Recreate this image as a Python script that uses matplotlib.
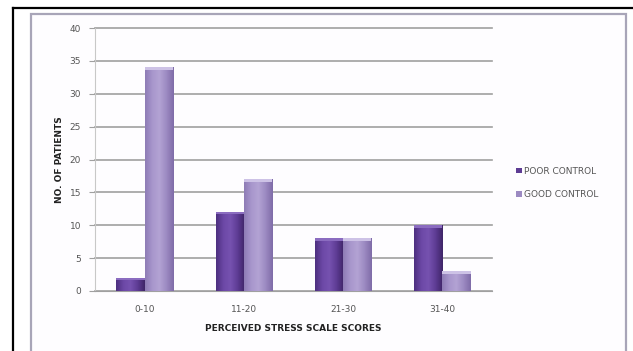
import numpy as np
import matplotlib.pyplot as plt
from matplotlib.patches import Rectangle
from matplotlib.lines import Line2D
from matplotlib.colors import LinearSegmentedColormap

categories = ["0-10", "11-20", "21-30", "31-40"]
poor_control = [2, 12, 8, 10]
good_control = [34, 17, 8, 3]
series_names = ["POOR CONTROL", "GOOD CONTROL"]
y_ticks = [0, 5, 10, 15, 20, 25, 30, 35, 40]

W, H = 633, 351
fig = plt.figure(figsize=(W / 100, H / 100), dpi=100)
fig.patch.set_facecolor("white")

# outer frame lines (top and left)
fig.add_artist(Line2D([13 / W, 1.0], [1 - 8 / H, 1 - 8 / H], color="black", lw=1.6,
                      transform=fig.transFigure))
fig.add_artist(Line2D([13 / W, 13 / W], [0, 1 - 8 / H], color="black", lw=1.6,
                      transform=fig.transFigure))
# chart area border
fig.add_artist(Rectangle((31 / W, -0.05), (626 - 31) / W, 1 - 14 / H + 0.05,
                         transform=fig.transFigure, fill=True, facecolor="#fefdff",
                         edgecolor="#a8a5b8", lw=1.6, zorder=0))

ax = fig.add_axes([95 / W, 1 - 291 / H, (492 - 95) / W, (291 - 28) / H])
ax.set_facecolor("none")

x = np.arange(len(categories))
bw = 0.285

poor_cmap = LinearSegmentedColormap.from_list(
    "poor", ["#4d2f80", "#6c48a6", "#7652b0", "#5e3c94", "#3f2568"])
good_cmap = LinearSegmentedColormap.from_list(
    "good", ["#8e7cb6", "#a896cc", "#b3a3d4", "#9c8ac2", "#7f6ca8"])

grad = np.linspace(0, 1, 64).reshape(1, -1)

def draw_series(offset, values, cmap, cap):
    bars = ax.bar(x + offset, values, width=bw, color="none", edgecolor="none", zorder=3)
    for b in bars:
        x0, w, h = b.get_x(), b.get_width(), b.get_height()
        im = ax.imshow(grad, cmap=cmap, aspect="auto", extent=(x0, x0 + w, 0, h),
                       zorder=3, interpolation="bilinear")
        im.set_clip_path(b)
        ax.add_patch(Rectangle((x0, h - 0.35), w, 0.35, facecolor=cap,
                               edgecolor="none", zorder=4))
    return bars

draw_series(-bw / 2, poor_control, poor_cmap, "#8b6cc0")
draw_series(bw / 2, good_control, good_cmap, "#cdc2e6")

ax.set_xlim(-0.5, len(categories) - 0.5)
ax.set_ylim(0, 40)
ax.set_yticks(y_ticks)
ax.set_xticks(x)
ax.set_xticklabels(categories)
ax.yaxis.grid(True, color="#a0a0a0", lw=1.2)
for gl in ax.get_ygridlines():
    gl.set_clip_on(False)
ax.set_axisbelow(True)
for s in ["top", "right"]:
    ax.spines[s].set_visible(False)
ax.spines["left"].set_color("#c8c8c8")
ax.spines["bottom"].set_color("#a0a0a0")
ax.tick_params(axis="y", length=4, color="#a0a0a0", labelsize=6.5, labelcolor="#555555", pad=6)
ax.tick_params(axis="x", length=0, labelsize=6.5, labelcolor="#555555", pad=10)

ax.set_xlabel("PERCEIVED STRESS SCALE SCORES", fontsize=6.5, fontweight="bold",
              color="#222222", labelpad=7)
ax.set_ylabel("NO. OF PATIENTS", fontsize=6.5, fontweight="bold", color="#222222",
              labelpad=4)

handles = [Rectangle((0, 0), 1, 1, facecolor="#5e3c94"),
           Rectangle((0, 0), 1, 1, facecolor="#9c8ac2")]
fig.legend(handles, series_names, loc="center left",
           bbox_to_anchor=(508 / W, 1 - 183 / H), frameon=False, fontsize=6.5,
           labelcolor="#555555", handlelength=0.6, handleheight=0.6,
           handletextpad=0.3, labelspacing=1.6)

fig.savefig("out.png", dpi=100)
